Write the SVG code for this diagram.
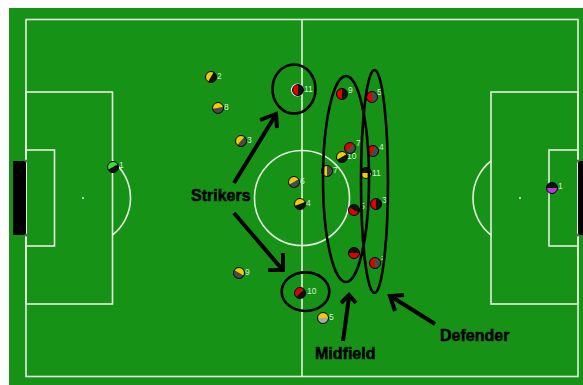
<svg xmlns="http://www.w3.org/2000/svg" width="583" height="385" viewBox="0 0 583 385">
<defs>
<style>
.ln{fill:none;stroke:#e6efe0;stroke-width:1.6}
.ol{fill:none;stroke:#000;stroke-width:1}
.lbl{font-family:"Liberation Sans",Arial,sans-serif;font-size:8.5px;fill:#d4f0cc}
.ann{fill:none;stroke:#000;stroke-width:2.6}
.arr{fill:none;stroke:#000;stroke-width:4;stroke-linecap:butt;stroke-linejoin:miter}
.big{font-family:"Liberation Sans",Arial,sans-serif;font-size:16px;font-weight:bold;fill:#000;stroke:#000;stroke-width:0.5}
</style>
<path id="half" d="M-5.5,0 A5.5,5.5 0 0 1 5.5,0 Z"/>
<path id="halfb" d="M-5.5,0 A5.5,5.5 0 0 0 5.5,0 Z"/>
</defs>
<rect width="583" height="385" fill="#fff"/>
<rect x="9" y="8" width="574" height="377" fill="#169216"/>
<g id="field">
<rect class="ln" x="26" y="19.5" width="552" height="357"/>
<line class="ln" x1="302" y1="19.5" x2="302" y2="376.5"/>
<circle class="ln" cx="302" cy="198" r="47.5"/>
<rect class="ln" x="26" y="92" width="86.5" height="212"/>
<rect class="ln" x="26" y="150" width="28.5" height="96"/>
<rect class="ln" x="491" y="92" width="87" height="212"/>
<rect class="ln" x="549" y="150" width="29" height="96"/>
<path class="ln" d="M112.5,161 A47,47 0 0 1 112.5,235"/>
<path class="ln" d="M491,161 A47,47 0 0 0 491,235"/>
<circle cx="83" cy="198" r="1" fill="#e6efe0"/>
<circle cx="520" cy="198" r="1" fill="#e6efe0"/>
<circle cx="302" cy="198" r="1" fill="#e6efe0"/>
<rect x="13" y="161" width="13" height="74" fill="#000"/>
<rect x="578" y="161" width="5" height="74" fill="#000"/>
<circle cx="26" cy="161" r="1.5" fill="#666"/>
<circle cx="26" cy="235" r="1.5" fill="#666"/>
<circle cx="578" cy="161" r="1.5" fill="#666"/>
<circle cx="578" cy="235" r="1.5" fill="#666"/>
</g>
<g id="y2" transform="translate(211,77)"><g transform="rotate(-60)"><use href="#half" fill="#f2cc00"/><use href="#halfb" fill="#111"/></g><circle class="ol" r="5.5"/><text class="lbl" x="6" y="2">2</text></g>
<g id="y8" transform="translate(218,108)"><g transform="rotate(-10)"><use href="#half" fill="#f2cc00"/><use href="#halfb" fill="#4a4a4a"/></g><circle class="ol" r="5.5"/><text class="lbl" x="6" y="2">8</text></g>
<g id="y3" transform="translate(241,141)"><g transform="rotate(-50)"><use href="#half" fill="#f2cc00"/><use href="#halfb" fill="#4a4a4a"/></g><circle class="ol" r="5.5"/><text class="lbl" x="6" y="2">3</text></g>
<g id="y6" transform="translate(294,182)"><g transform="rotate(-30)"><use href="#half" fill="#f2cc00"/><use href="#halfb" fill="#4a4a4a"/></g><circle class="ol" r="5.5"/><text class="lbl" x="6" y="2">6</text></g>
<g id="y4" transform="translate(300,204)"><g transform="rotate(-20)"><use href="#half" fill="#f2cc00"/><use href="#halfb" fill="#111"/></g><circle class="ol" r="5.5"/><text class="lbl" x="6" y="2">4</text></g>
<g id="y10" transform="translate(342,157)"><g transform="rotate(-30)"><use href="#half" fill="#f2cc00"/><use href="#halfb" fill="#111"/></g><circle class="ol" r="5.5"/><text class="lbl" x="5" y="2">10</text></g>
<g id="y7" transform="translate(327,171)"><g transform="rotate(-90)"><use href="#half" fill="#f2cc00"/><use href="#halfb" fill="#4a4a4a"/></g><circle class="ol" r="5.5"/><text class="lbl" x="6" y="2">7</text></g>
<g id="y9" transform="translate(239,273)"><g transform="rotate(30)"><use href="#half" fill="#f2cc00"/><use href="#halfb" fill="#4a4a4a"/></g><circle class="ol" r="5.5"/><text class="lbl" x="6" y="2">9</text></g>
<g id="y5" transform="translate(323,318)"><g><use href="#half" fill="#f2cc00"/><use href="#halfb" fill="#a8a8a8"/></g><circle class="ol" r="5.5"/><text class="lbl" x="6" y="2">5</text></g>
<g id="y1" transform="translate(113,167)"><g transform="rotate(-30)"><use href="#half" fill="#3ddc3d"/><use href="#halfb" fill="#111"/></g><circle class="ol" r="5.5"/><text class="lbl" x="6" y="1">1</text></g>
<g id="y11" transform="translate(366,173)"><g><use href="#half" fill="#111"/><use href="#halfb" fill="#f2cc00"/></g><circle class="ol" r="5.5"/><text class="lbl" x="6" y="3">11</text></g>
<g id="r11" transform="translate(298,90)"><circle r="6.5" fill="#fff" cx="-0.5"/><g transform="rotate(-90)"><use href="#half" fill="#e00000"/><use href="#halfb" fill="#111"/></g><circle class="ol" r="5.5"/><text class="lbl" x="6" y="2">11</text></g>
<g id="r9" transform="translate(342,94)"><g transform="rotate(-90)"><use href="#half" fill="#e00000"/><use href="#halfb" fill="#111"/></g><circle class="ol" r="5.5"/><text class="lbl" x="6" y="-1">9</text></g>
<g id="r5a" transform="translate(372,97)"><g transform="rotate(-90)"><use href="#half" fill="#e00000"/><use href="#halfb" fill="#4a4a4a"/></g><circle class="ol" r="5.5"/><text class="lbl" x="5" y="-2">5</text></g>
<g id="r7" transform="translate(350,148)"><g transform="rotate(-45)"><use href="#half" fill="#e00000"/><use href="#halfb" fill="#4a4a4a"/></g><circle class="ol" r="5.5"/><text class="lbl" x="6" y="-2">7</text></g>
<g id="r4" transform="translate(373,151)"><g transform="rotate(-60)"><use href="#half" fill="#e00000"/><use href="#halfb" fill="#4a4a4a"/></g><circle class="ol" r="5.5"/><text class="lbl" x="6" y="-1">4</text></g>
<g id="r5b" transform="translate(354,210)"><g transform="rotate(-150)"><use href="#half" fill="#e00000"/><use href="#halfb" fill="#111"/></g><circle class="ol" r="5.5"/><text class="lbl" x="6" y="-1">5</text></g>
<g id="r3" transform="translate(376,204)"><g transform="rotate(-90)"><use href="#half" fill="#e00000"/><use href="#halfb" fill="#111"/></g><circle class="ol" r="5.5"/><text class="lbl" x="6" y="-1">3</text></g>
<g id="r2a" transform="translate(354,253)"><g transform="rotate(180)"><use href="#half" fill="#e00000"/><use href="#halfb" fill="#111"/></g><circle class="ol" r="5.5"/></g>
<g id="r2b" transform="translate(375,263)"><g transform="rotate(-90)"><use href="#half" fill="#e00000"/><use href="#halfb" fill="#4a4a4a"/></g><circle class="ol" r="5.5"/><text class="lbl" x="6" y="-3" style="font-size:6px">2</text></g>
<g id="r10" transform="translate(300,293)"><g transform="rotate(-45)"><use href="#half" fill="#e00000"/><use href="#halfb" fill="#111"/></g><circle class="ol" r="5.5"/><text class="lbl" x="7" y="1">10</text></g>
<g id="r1" transform="translate(552,188)"><g transform="rotate(180)"><use href="#half" fill="#b838d8"/><use href="#halfb" fill="#111"/></g><circle class="ol" r="5.5"/><text class="lbl" x="6" y="1">1</text></g>
<g id="groups">
<ellipse class="ann" cx="294" cy="89" rx="21.5" ry="24.5"/>
<ellipse class="ann" cx="305.5" cy="291.7" rx="23.8" ry="19.3"/>
<ellipse class="ann" cx="346" cy="179" rx="23" ry="103"/>
<ellipse class="ann" cx="374.5" cy="181.5" rx="13.5" ry="111.5"/>
</g>
<g id="connectors">
<path class="arr" d="M234,183 L275,116"/>
<path class="arr" d="M260,120 L276,114 L277,128"/>
<path class="arr" d="M234,213 L281,268"/>
<path class="arr" d="M268,270 L283,270 L283,253"/>
<path class="arr" d="M343,341 L349,297"/>
<path class="arr" d="M341,303 L349,295 L356,303"/>
<path class="arr" d="M435,324 L392,297"/>
<path class="arr" d="M404,295 L390,296 L395,311"/>
</g>
<g id="labels">
<text class="big" x="191" y="201">Strikers</text>
<text class="big" x="315" y="359">Midfield</text>
<text class="big" x="440" y="340.5">Defender</text>
</g>
</svg>
